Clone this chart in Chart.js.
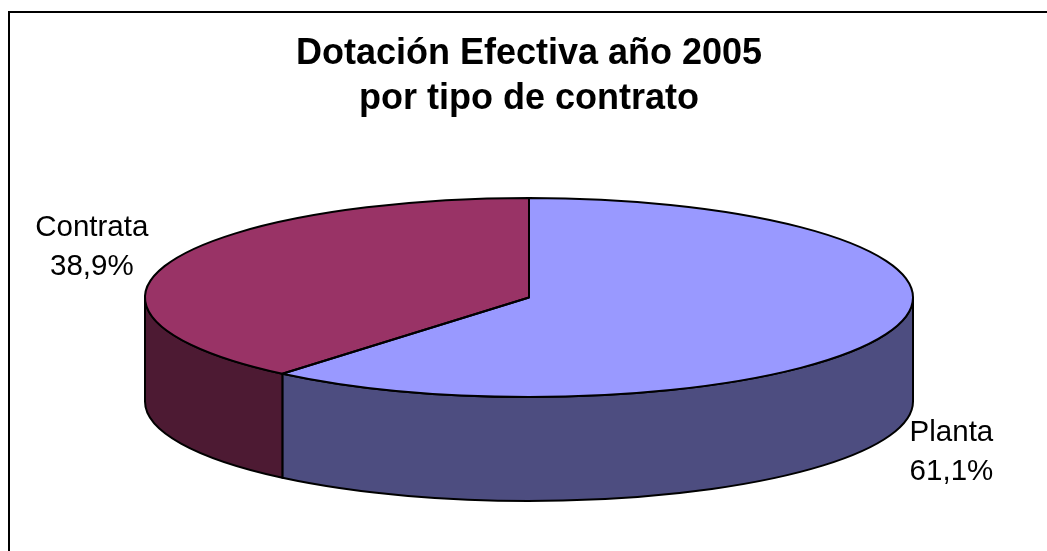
<!DOCTYPE html>
<html>
<head>
<meta charset="utf-8">
<script src="https://cdn.jsdelivr.net/npm/chart.js@4.4.1/dist/chart.umd.min.js"></script>
<style>
  html, body { margin: 0; padding: 0; background: #fff; }
  #contenedor { width: 1047px; height: 551px; }
</style>
</head>
<body>
<div id="contenedor"><canvas id="graficoDotacion"></canvas></div>
<script>
// Datos del gráfico
const categorias = ['Planta', 'Contrata'];
const porcentajes = [61.1, 38.9];
const coloresSuperior = ['#9999FF', '#993366'];
const coloresLateral = ['#4D4D80', '#4D1A33'];
const titulo = ['Dotación Efectiva año 2005', 'por tipo de contrato'];

const PROFUNDIDAD = 104;
const FUENTE = "'Liberation Sans', Arial, sans-serif";

function formatoPct(v) {
    return v.toFixed(1).replace('.', ',') + '%';
}

// Plugin para simular el pastel 3D (elipse + paredes laterales)
const pastel3d = {
    id: 'pastel3d',
    beforeDraw(chart) {
        const ctx = chart.ctx;
        ctx.save();
        ctx.strokeStyle = '#000';
        ctx.lineWidth = 2;
        ctx.strokeRect(9, 12, chart.width + 20, chart.height + 20);
        ctx.restore();
    },
    beforeDatasetsDraw(chart) {
        const ctx = chart.ctx;
        const area = chart.chartArea;
        const arcs = chart.getDatasetMeta(0).data;
        if (!arcs.length) return false;
        const r = arcs[0].outerRadius;
        const cx = arcs[0].x, cy = arcs[0].y;
        const rx = (area.right - area.left) / 2;
        const ry = (area.bottom - area.top) / 2;

        ctx.save();
        ctx.lineWidth = 2;
        ctx.strokeStyle = '#000';
        ctx.lineJoin = 'round';

        // paredes laterales (solo la mitad frontal)
        arcs.forEach((el, i) => {
            for (let k = -1; k <= 1; k++) {
                const s = Math.max(el.startAngle, 2 * Math.PI * k);
                const e = Math.min(el.endAngle, 2 * Math.PI * k + Math.PI);
                if (e <= s) continue;
                ctx.beginPath();
                ctx.ellipse(cx, cy, rx, ry, 0, s, e);
                ctx.ellipse(cx, cy + PROFUNDIDAD, rx, ry, 0, e, s, true);
                ctx.closePath();
                ctx.fillStyle = coloresLateral[i];
                ctx.fill();
                ctx.stroke();
            }
        });

        // cara superior
        arcs.forEach(el => {
            ctx.save();
            ctx.translate(cx, cy);
            ctx.scale(rx / r, ry / r);
            ctx.translate(-cx, -cy);
            el.draw(ctx);
            ctx.restore();
        });
        arcs.forEach(el => {
            ctx.beginPath();
            ctx.moveTo(cx, cy);
            ctx.ellipse(cx, cy, rx, ry, 0, el.startAngle, el.endAngle);
            ctx.closePath();
            ctx.stroke();
        });

        // etiquetas
        ctx.font = '29.5px ' + FUENTE;
        ctx.fillStyle = '#000';
        ctx.textAlign = 'center';
        ctx.textBaseline = 'middle';
        arcs.forEach((el, i) => {
            const m = (el.startAngle + el.endAngle) / 2;
            const c = Math.cos(m), s = Math.sin(m);
            const lineas = [categorias[i], formatoPct(porcentajes[i])];
            const ancho = Math.max(...lineas.map(t => ctx.measureText(t).width));
            let x = cx + (rx + 21) * c;
            const y = cy + (ry + 48) * s + (s > 0 ? PROFUNDIDAD : 0);
            x += (c >= 0 ? 1 : -1) * ancho / 2;
            lineas.forEach((t, j) => {
                ctx.fillText(t, x, y + (j - (lineas.length - 1) / 2) * 39);
            });
        });
        ctx.restore();
        return false;
    }
};

const ctxDotacion = document.getElementById('graficoDotacion').getContext('2d');
const graficoDotacion = new Chart(ctxDotacion, {
    type: 'pie',
    data: {
        labels: categorias,
        datasets: [{
            data: porcentajes,
            backgroundColor: coloresSuperior,
            borderWidth: 0,
            hoverBorderWidth: 0,
            hoverOffset: 0
        }]
    },
    options: {
        responsive: true,
        maintainAspectRatio: false,
        animation: false,
        events: [],
        layout: {
            padding: { top: 0, left: 145, right: 134, bottom: 154 }
        },
        plugins: {
            legend: { display: false },
            tooltip: { enabled: false },
            title: {
                display: true,
                text: titulo,
                color: '#000',
                font: { family: FUENTE, size: 36, weight: 'bold', lineHeight: 1.25 },
                padding: { top: 32, bottom: 76 }
            }
        }
    },
    plugins: [pastel3d]
});
</script>
</body>
</html>
